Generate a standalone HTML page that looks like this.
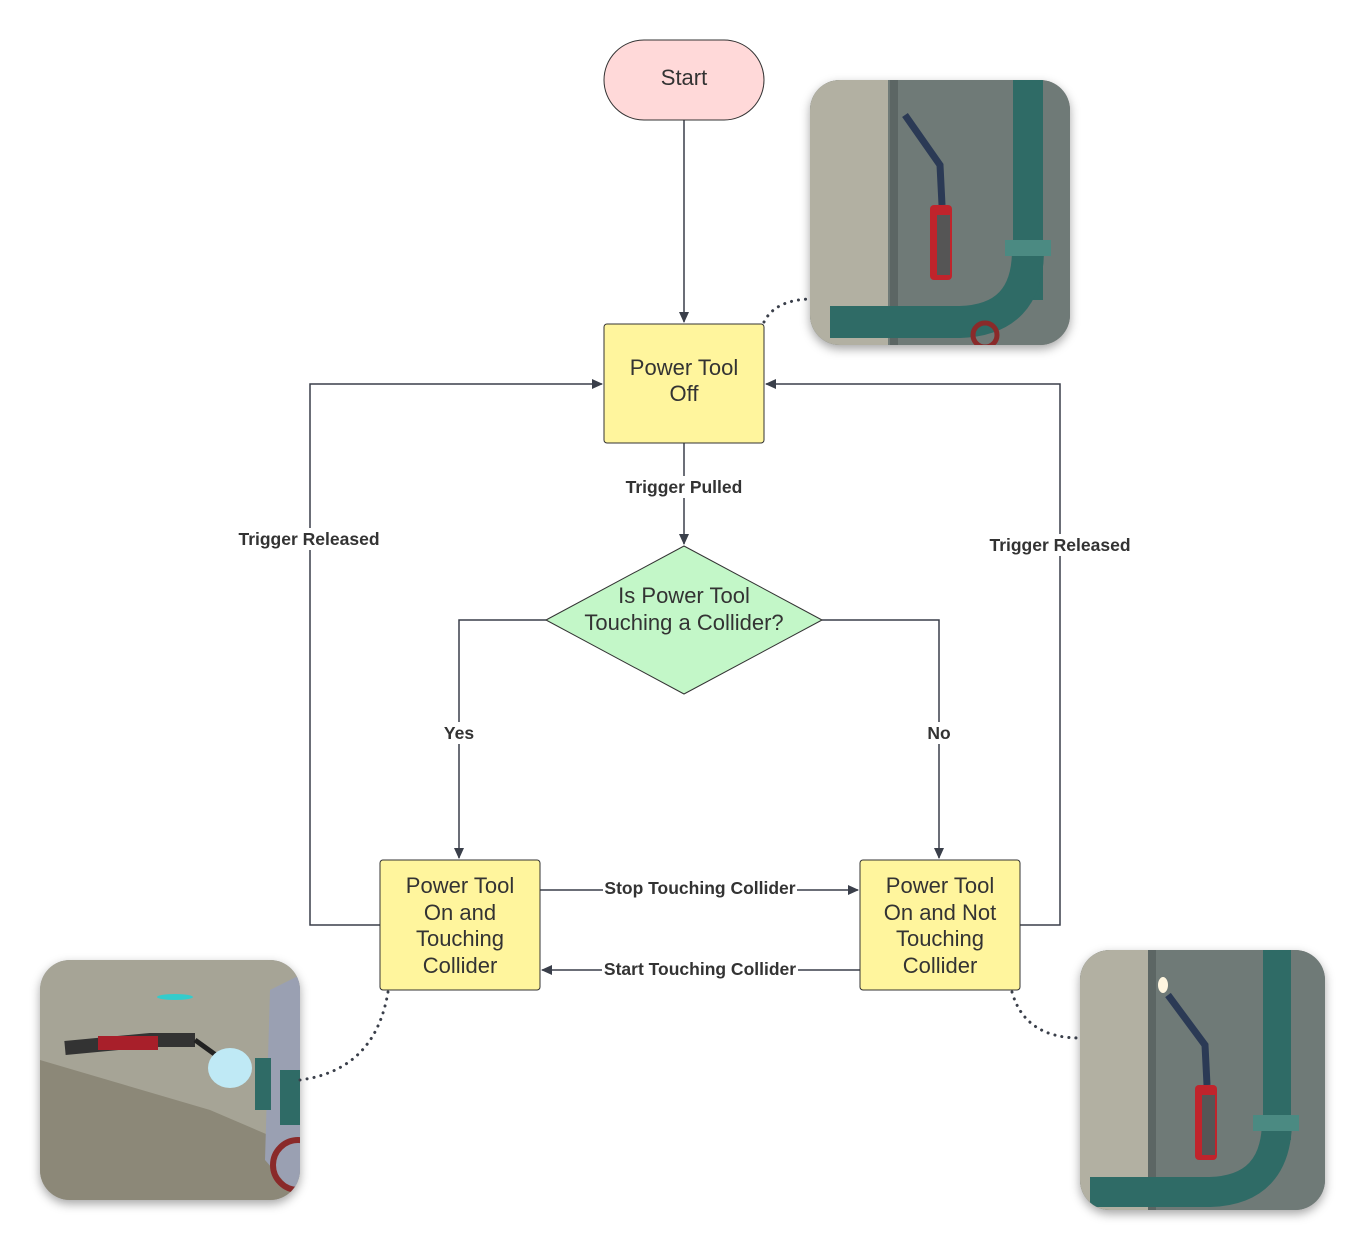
<!DOCTYPE html>
<html><head><meta charset="utf-8"><style>
html,body{margin:0;padding:0;background:#fff;}
svg{display:block;font-family:"Liberation Sans",Arial,sans-serif;}
.n{font-size:22px;fill:#333;text-anchor:middle;}
.l{font-size:17.5px;font-weight:bold;fill:#333;text-anchor:middle;}
.e{fill:none;stroke:#3a3f4a;stroke-width:1.5;}
.d{fill:none;stroke:#3a3f4a;stroke-width:3;stroke-dasharray:0.1 7;stroke-linecap:round;}
</style></head><body>
<svg width="1366" height="1250" viewBox="0 0 1366 1250">
<defs>
<marker id="a" markerWidth="12" markerHeight="12" refX="10" refY="5" orient="auto" markerUnits="userSpaceOnUse"><path d="M0,0 L11,5 L0,10 Z" fill="#3a3f4a"/></marker>
<filter id="sh" x="-20%" y="-20%" width="140%" height="140%"><feDropShadow dx="0" dy="4" stdDeviation="5" flood-opacity="0.35"/></filter>
<clipPath id="c1"><rect x="810" y="80" width="260" height="265" rx="30"/></clipPath>
<clipPath id="c2"><rect x="40" y="960" width="260" height="240" rx="30"/></clipPath>
<clipPath id="c3"><rect x="1080" y="950" width="245" height="260" rx="30"/></clipPath>
</defs>

<rect x="810" y="80" width="260" height="265" rx="30" fill="#777" filter="url(#sh)"/>
<g clip-path="url(#c1)">
<rect x="810" y="80" width="260" height="265" fill="#6f7a77"/>
<rect x="810" y="80" width="78" height="265" fill="#b2b0a2"/>
<rect x="890" y="80" width="8" height="265" fill="#5c6664"/>
<rect x="1013" y="80" width="30" height="220" fill="#2f6b66"/>
<path d="M1028,250 Q1028,320 960,322 L830,322" stroke="#2f6b66" stroke-width="32" fill="none"/>
<rect x="1005" y="240" width="46" height="16" fill="#4b8a82"/>
<path d="M905,115 L940,165 L942,205" stroke="#2b3a55" stroke-width="7" fill="none"/>
<rect x="930" y="205" width="22" height="75" rx="4" fill="#c0242c"/>
<rect x="937" y="215" width="13" height="60" fill="#555"/>
<circle cx="985" cy="335" r="12" fill="none" stroke="#8a2a2a" stroke-width="5"/>
</g>

<rect x="40" y="960" width="260" height="240" rx="30" fill="#999" filter="url(#sh)"/>
<g clip-path="url(#c2)">
<rect x="40" y="960" width="260" height="240" fill="#a6a496"/>
<path d="M40,1060 L210,1110 L280,1140 L300,1200 L40,1200 Z" fill="#8c8878"/>
<path d="M270,990 L300,975 L300,1200 L265,1160 Z" fill="#9aa0b2"/>
<ellipse cx="175" cy="997" rx="18" ry="3" fill="#33cccc"/>
<path d="M65,1048 L150,1040 L195,1040" stroke="#333" stroke-width="14" fill="none"/>
<rect x="98" y="1036" width="60" height="14" fill="#a81f2a"/>
<path d="M195,1040 L220,1058" stroke="#222" stroke-width="5"/>
<ellipse cx="230" cy="1068" rx="22" ry="20" fill="#bfe9f5"/>
<rect x="255" y="1058" width="16" height="52" fill="#2f6b66"/>
<rect x="280" y="1070" width="20" height="55" fill="#2f6b66"/>
<circle cx="298" cy="1165" r="25" fill="none" stroke="#8a2a2a" stroke-width="6"/>
</g>

<rect x="1080" y="950" width="245" height="260" rx="30" fill="#777" filter="url(#sh)"/>
<g clip-path="url(#c3)">
<rect x="1080" y="950" width="245" height="260" fill="#6f7a77"/>
<rect x="1080" y="950" width="68" height="260" fill="#b2b0a2"/>
<rect x="1148" y="950" width="8" height="260" fill="#5c6664"/>
<rect x="1263" y="950" width="28" height="190" fill="#2f6b66"/>
<path d="M1277,1120 Q1277,1190 1210,1192 L1090,1192" stroke="#2f6b66" stroke-width="30" fill="none"/>
<rect x="1253" y="1115" width="46" height="16" fill="#4b8a82"/>
<ellipse cx="1163" cy="985" rx="5" ry="8" fill="#fff6e0"/>
<path d="M1168,995 L1205,1045 L1207,1085" stroke="#2b3a55" stroke-width="7" fill="none"/>
<rect x="1195" y="1085" width="22" height="75" rx="4" fill="#c0242c"/>
<rect x="1202" y="1095" width="13" height="60" fill="#555"/>
</g>

<line class="e" x1="684" y1="120" x2="684" y2="322" marker-end="url(#a)"/>
<line class="e" x1="684" y1="443" x2="684" y2="544" marker-end="url(#a)"/>
<path class="e" d="M546,620 L459,620 L459,858" marker-end="url(#a)"/>
<path class="e" d="M822,620 L939,620 L939,858" marker-end="url(#a)"/>
<path class="e" d="M380,925 L310,925 L310,384 L602,384" marker-end="url(#a)"/>
<path class="e" d="M1020,925 L1060,925 L1060,384 L766,384" marker-end="url(#a)"/>
<line class="e" x1="540" y1="890" x2="858" y2="890" marker-end="url(#a)"/>
<line class="e" x1="860" y1="970" x2="542" y2="970" marker-end="url(#a)"/>

<path class="d" d="M764,322 Q775,300 810,299"/>
<path class="d" d="M388,992 Q375,1070 300,1080"/>
<path class="d" d="M1012,992 Q1025,1038 1080,1038"/>

<g>
<rect x="625" y="476" width="118" height="22" fill="#fff"/><text class="l" x="684" y="493">Trigger Pulled</text>
<rect x="238" y="528" width="143" height="22" fill="#fff"/><text class="l" x="309" y="545">Trigger Released</text>
<rect x="989" y="534" width="143" height="22" fill="#fff"/><text class="l" x="1060" y="551">Trigger Released</text>
<rect x="444" y="722" width="30" height="22" fill="#fff"/><text class="l" x="459" y="739">Yes</text>
<rect x="927" y="722" width="24" height="22" fill="#fff"/><text class="l" x="939" y="739">No</text>
<rect x="603" y="878" width="194" height="22" fill="#fff"/><text class="l" x="700" y="894">Stop Touching Collider</text>
<rect x="602" y="958" width="196" height="22" fill="#fff"/><text class="l" x="700" y="975">Start Touching Collider</text>
</g>

<rect x="604" y="40" width="160" height="80" rx="40" fill="#ffd9d9" stroke="#333" stroke-width="1"/>
<text class="n" x="684" y="85">Start</text>

<rect x="604" y="324" width="160" height="119" rx="3" fill="#fff59d" stroke="#333" stroke-width="1"/>
<text class="n" x="684" y="375">Power Tool</text>
<text class="n" x="684" y="401">Off</text>

<path d="M684,546 L822,620 L684,694 L546,620 Z" fill="#c3f7c8" stroke="#333" stroke-width="1" stroke-linejoin="round"/>
<text class="n" x="684" y="603">Is Power Tool</text>
<text class="n" x="684" y="630">Touching a Collider?</text>

<rect x="380" y="860" width="160" height="130" rx="3" fill="#fff59d" stroke="#333" stroke-width="1"/>
<text class="n" x="460" y="893">Power Tool</text>
<text class="n" x="460" y="920">On and</text>
<text class="n" x="460" y="946">Touching</text>
<text class="n" x="460" y="973">Collider</text>

<rect x="860" y="860" width="160" height="130" rx="3" fill="#fff59d" stroke="#333" stroke-width="1"/>
<text class="n" x="940" y="893">Power Tool</text>
<text class="n" x="940" y="920">On and Not</text>
<text class="n" x="940" y="946">Touching</text>
<text class="n" x="940" y="973">Collider</text>
</svg>
</body></html>
